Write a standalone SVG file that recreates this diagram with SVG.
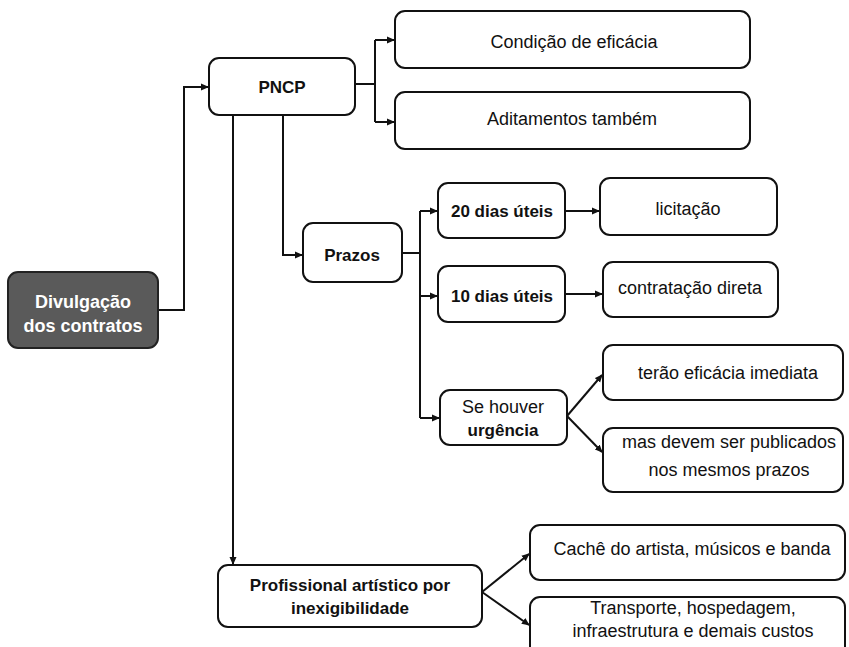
<svg xmlns="http://www.w3.org/2000/svg" width="849" height="647" viewBox="0 0 849 647">
<defs>
<marker id="ah" markerWidth="8" markerHeight="8" refX="7" refY="4" orient="auto" markerUnits="userSpaceOnUse">
<path d="M0,0.5 L8,4 L0,7.5 Z" fill="#111"/>
</marker>
</defs>
<style>
.box{fill:#fff;stroke:#111;stroke-width:2}
.dark{fill:#5a5a5a;stroke:#222;stroke-width:2}
.t{font-family:"Liberation Sans",Arial,sans-serif;font-size:18px;fill:#111;text-anchor:middle}
.b{font-weight:bold;font-size:17px}
.w{fill:#fff;font-weight:bold;font-size:18px}
.c{fill:none;stroke:#111;stroke-width:2}
</style>
<rect width="849" height="647" fill="#fff"/>
<g id="connectors">
<path class="c" d="M158,310 H184 V87 H208" marker-end="url(#ah)"/>
<path class="c" d="M355,84 H375 M375,40 V122"/>
<path class="c" d="M375,40 H394" marker-end="url(#ah)"/>
<path class="c" d="M375,122 H394" marker-end="url(#ah)"/>
<path class="c" d="M283,115 V255 H302" marker-end="url(#ah)"/>
<path class="c" d="M233,115 V564" marker-end="url(#ah)"/>
<path class="c" d="M402,253 H420 M420,211 V418"/>
<path class="c" d="M420,211 H437" marker-end="url(#ah)"/>
<path class="c" d="M420,296 H437" marker-end="url(#ah)"/>
<path class="c" d="M420,418 H439" marker-end="url(#ah)"/>
<path class="c" d="M565,211 H599" marker-end="url(#ah)"/>
<path class="c" d="M565,294 H602" marker-end="url(#ah)"/>
<path class="c" d="M567,416 L602,375" marker-end="url(#ah)"/>
<path class="c" d="M567,416 L602,452" marker-end="url(#ah)"/>
<path class="c" d="M482,592 L529,554" marker-end="url(#ah)"/>
<path class="c" d="M482,592 L529,625" marker-end="url(#ah)"/>
</g>
<g id="divulgacao">
<rect class="dark" x="8" y="272" width="150" height="76" rx="10"/>
<text class="t w" x="83" y="308">Divulgação</text>
<text class="t w" x="83" y="332">dos contratos</text>
</g>
<g id="pncp">
<rect class="box" x="209" y="58" width="146" height="57" rx="10"/>
<text class="t b" x="282" y="93">PNCP</text>
</g>
<g id="condicao">
<rect class="box" x="395" y="11" width="355" height="57" rx="10"/>
<text class="t" x="574" y="48">Condição de eficácia</text>
</g>
<g id="aditamentos">
<rect class="box" x="395" y="92" width="355" height="57" rx="10"/>
<text class="t" x="572" y="125">Aditamentos também</text>
</g>
<g id="prazos">
<rect class="box" x="303" y="223" width="99" height="59" rx="10"/>
<text class="t b" x="352" y="261">Prazos</text>
</g>
<g id="vinte">
<rect class="box" x="438" y="183" width="127" height="55" rx="10"/>
<text class="t b" x="502" y="217">20 dias úteis</text>
</g>
<g id="dez">
<rect class="box" x="438" y="266" width="127" height="56" rx="10"/>
<text class="t b" x="502" y="302">10 dias úteis</text>
</g>
<g id="licitacao">
<rect class="box" x="600" y="178" width="177" height="57" rx="10"/>
<text class="t" x="688" y="215">licitação</text>
</g>
<g id="contratacao">
<rect class="box" x="603" y="262" width="175" height="55" rx="10"/>
<text class="t" x="690" y="294">contratação direta</text>
</g>
<g id="urgencia">
<rect class="box" x="440" y="390" width="127" height="55" rx="10"/>
<text class="t" x="503" y="413">Se houver</text>
<text class="t b" x="503" y="436">urgência</text>
</g>
<g id="terao">
<rect class="box" x="603" y="345" width="240" height="55" rx="10"/>
<text class="t" x="728" y="379">terão eficácia imediata</text>
</g>
<g id="mas">
<rect class="box" x="603" y="428" width="240" height="64" rx="10"/>
<text class="t" x="729" y="448">mas devem ser publicados</text>
<text class="t" x="729" y="476">nos mesmos prazos</text>
</g>
<g id="profissional">
<rect class="box" x="218" y="565" width="264" height="62" rx="10"/>
<text class="t b" x="350" y="591">Profissional artístico por</text>
<text class="t b" x="350" y="614">inexigibilidade</text>
</g>
<g id="cache">
<rect class="box" x="530" y="525" width="315" height="55" rx="10"/>
<text class="t" x="692" y="555">Cachê do artista, músicos e banda</text>
</g>
<g id="transporte">
<rect class="box" x="530" y="597" width="315" height="70" rx="10"/>
<text class="t" x="693" y="614">Transporte, hospedagem,</text>
<text class="t" x="693" y="637">infraestrutura e demais custos</text>
</g>
</svg>
